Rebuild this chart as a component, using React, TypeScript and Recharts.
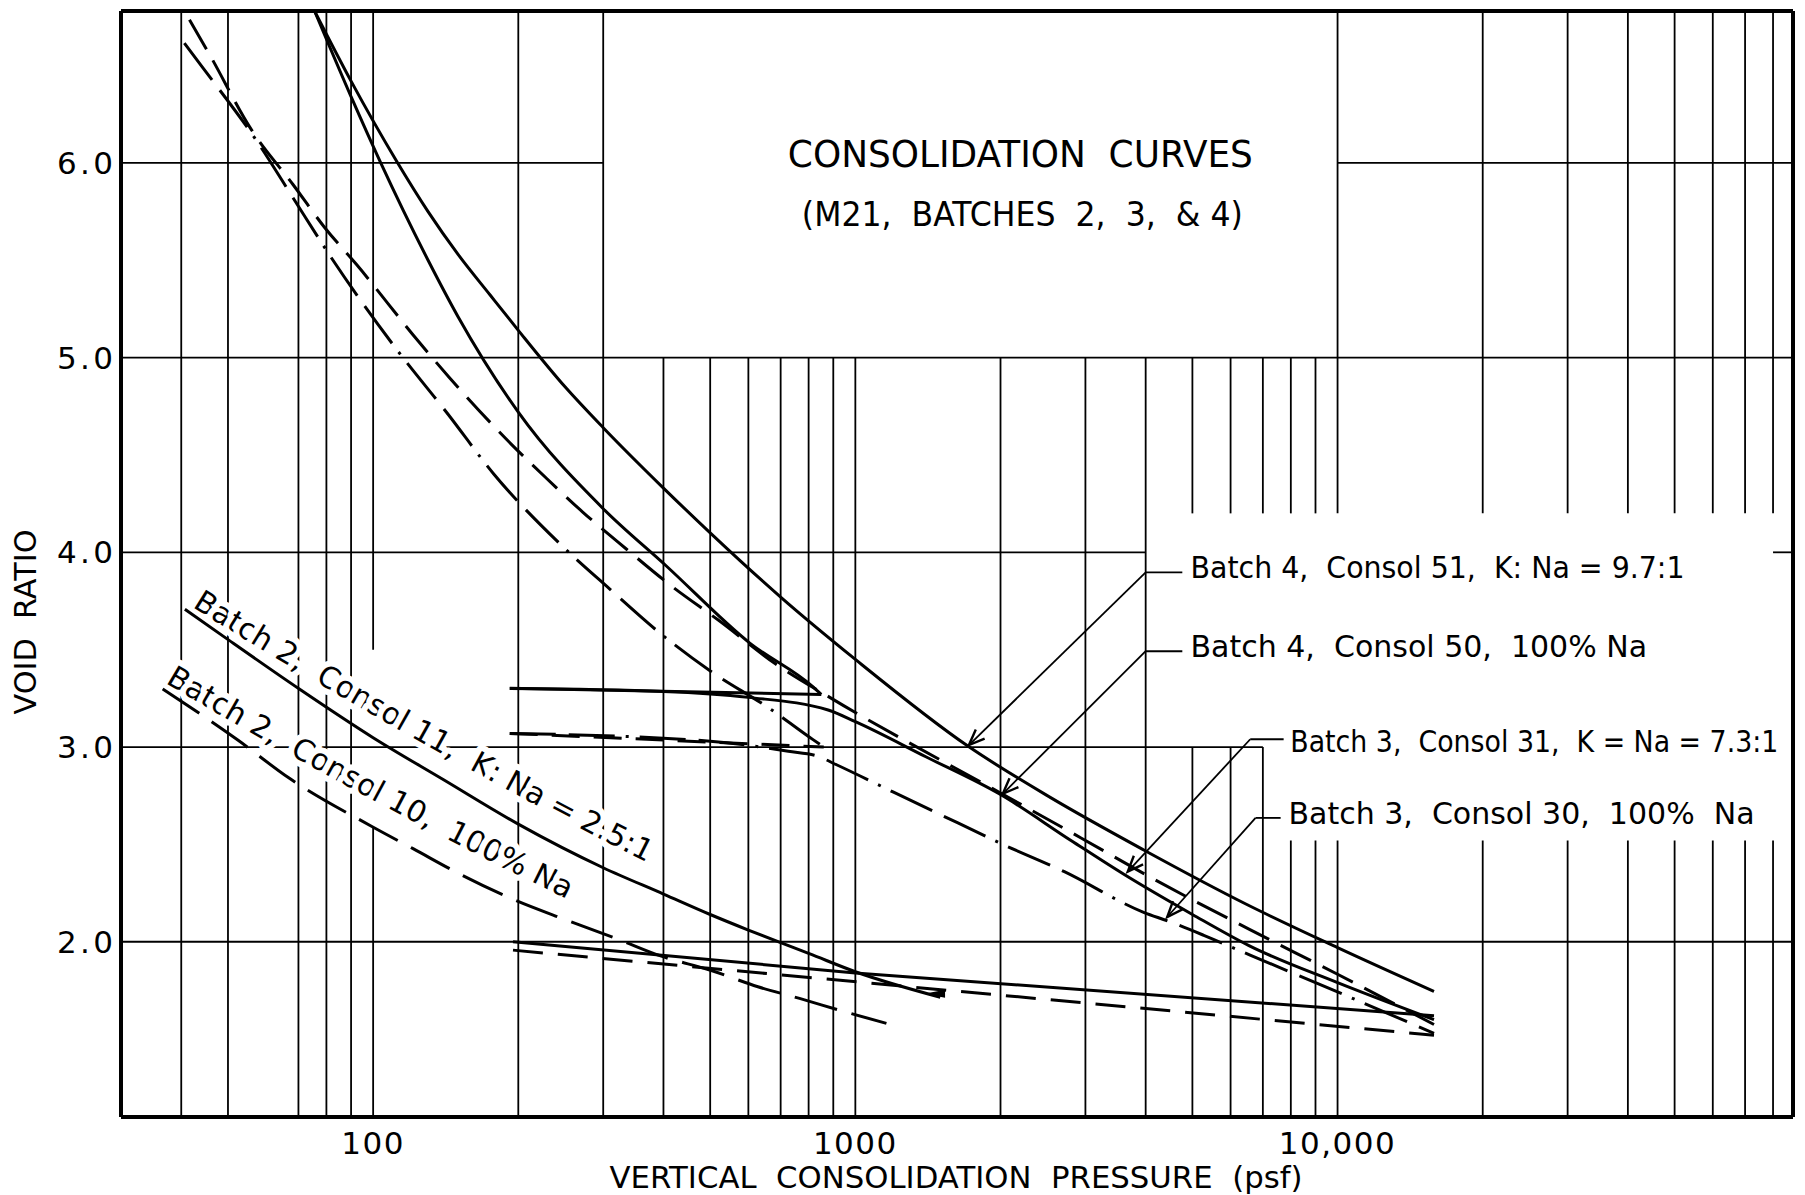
import React from 'react';
import { LineChart, Line, XAxis, YAxis, ReferenceLine, ReferenceDot } from 'recharts';

type Pt = { p: number; e: number };
const toPts = (rows: number[][]): Pt[] => rows.map(([p, e]) => ({ p, e }));

const FONT = '"DejaVu Sans", "Liberation Sans", sans-serif';
const INK = '#000';

// axis extents: pressure (psf, log) and void ratio
const pMin = 30;
const pMax = 88000;
const eMin = 1.1;
const eMax = 6.78;

const xTicks = [100, 1000, 10000];
const xTickLabels: Record<number, string> = { 100: '100', 1000: '1000', 10000: '10,000' };
const yTicks = [2, 3, 4, 5, 6];

// Batch 4, Consol 51, K:Na = 9.7:1 (solid)
const b4c51 = toPts([
  [75.6, 6.78], [90, 6.42], [111.8, 6.01], [130, 5.75], [150, 5.53], [175, 5.32], [200, 5.14],
  [250, 4.85], [300, 4.64], [400, 4.33], [500, 4.1], [700, 3.77], [1000, 3.45], [1711, 3.005],
  [2541, 2.74], [3972, 2.47], [6500, 2.19], [10000, 1.97], [15850, 1.745],
]);

// Batch 4, Consol 50, 100% Na (long dash)
const b4c50 = toPts([
  [41.6, 6.735], [45.8, 6.556], [55.9, 6.171], [68.2, 5.889], [79.4, 5.667], [92.3, 5.479],
  [124, 5.085], [144, 4.897], [194, 4.552], [229, 4.379], [272, 4.207], [335, 4.017],
  [415, 3.828], [523, 3.647], [685, 3.425], [892, 3.25], [2000, 2.764], [2938, 2.533],
  [4168, 2.32], [6550, 2.065], [10000, 1.833], [15850, 1.575],
]);

// Batch 3, Consol 31, K:Na = 7.3:1 (solid): virgin, rebound, reload
const b3c31Load = toPts([
  [75.6, 6.78], [90, 6.34], [103.7, 6.0], [130, 5.5], [150, 5.21], [200, 4.72],
  [300, 4.224], [405, 3.931], [604, 3.534], [816, 3.31], [850, 3.27],
]);
const b3c31Rebound = toPts([[192, 3.302], [850, 3.27]]);
const b3c31Reload = toPts([
  [192, 3.3], [400, 3.285], [600, 3.255], [878, 3.19], [1000, 3.13], [1400, 2.95],
  [2000, 2.756], [2800, 2.52], [3611, 2.345], [5000, 2.14], [6550, 1.98],
  [10000, 1.79], [15850, 1.6],
]);

// Batch 3, Consol 30, 100% Na (dash-dot): virgin, rebound, reload
const b3c30Load = toPts([
  [40.6, 6.615], [44.4, 6.487], [57.7, 6.103], [68.2, 5.821], [81.9, 5.513], [111.8, 5.043],
  [143, 4.709], [177.5, 4.405], [242, 4.052], [310, 3.81], [393, 3.586], [502, 3.388],
  [664, 3.198], [817, 3.038], [860, 3.0],
]);
const b3c30Rebound = toPts([[192, 3.07], [860, 3.0]]);
const b3c30Reload = toPts([
  [192, 3.07], [500, 3.03], [726, 2.978], [837, 2.952], [914, 2.909], [1200, 2.768],
  [1632, 2.61], [1990, 2.508], [2713, 2.36], [3972, 2.15], [4467, 2.105], [5280, 2.033],
  [6605, 1.93], [8300, 1.827], [15850, 1.53],
]);

// Batch 2, Consol 11, K:Na = 2.5:1 (solid)
const b2c11Load = toPts([
  [40.7, 3.708], [50.2, 3.549], [70.3, 3.298], [100, 3.048], [140, 2.832], [200, 2.604],
  [300, 2.38], [400, 2.245], [500, 2.14], [600, 2.06], [700, 1.995], [800, 1.94],
  [1000, 1.846], [1500, 1.715],
]);
const b2c11Reload = toPts([[195, 2.0], [1000, 1.84], [15850, 1.62]]);

// Batch 2, Consol 10, 100% Na (long dash)
const b2c10Load = toPts([
  [36.6, 3.298], [52.4, 3.036], [66.7, 2.843], [99.4, 2.592], [121, 2.478], [152.9, 2.342],
  [196, 2.216], [252, 2.111], [325, 2.009], [396, 1.926], [499, 1.855], [628, 1.769],
  [766, 1.709], [949, 1.641], [1160, 1.581],
]);
const b2c10Reload = toPts([[195, 1.957], [15850, 1.52]]);

const LONG_DASH = '34 13';
const DASH_DOT = '46 13 46 11 3 11';
const B2_DASH = '44 15';
const SHORT_DASH = '28 14';

const series = [
  { key: 'b4c51', data: b4c51, dash: undefined, curve: 'monotone' },
  { key: 'b4c50', data: b4c50, dash: LONG_DASH, curve: 'monotone' },
  { key: 'b3c31-load', data: b3c31Load, dash: undefined, curve: 'monotone' },
  { key: 'b3c31-rebound', data: b3c31Rebound, dash: undefined, curve: 'linear' },
  { key: 'b3c31-reload', data: b3c31Reload, dash: undefined, curve: 'monotone' },
  { key: 'b3c30-load', data: b3c30Load, dash: DASH_DOT, curve: 'monotone' },
  { key: 'b3c30-rebound', data: b3c30Rebound, dash: SHORT_DASH, curve: 'linear' },
  { key: 'b3c30-reload', data: b3c30Reload, dash: DASH_DOT, curve: 'monotone' },
  { key: 'b2c11-load', data: b2c11Load, dash: undefined, curve: 'monotone' },
  { key: 'b2c11-reload', data: b2c11Reload, dash: undefined, curve: 'linear' },
  { key: 'b2c10-load', data: b2c10Load, dash: B2_DASH, curve: 'monotone' },
  { key: 'b2c10-reload', data: b2c10Reload, dash: '30 15', curve: 'linear' },
] as const;

// log paper rulings, vertical: [psf, e from, e to]
const fullHeight = [40, 50, 70, 80, 90, 200, 300];
const belowTitle = [400, 500, 600, 700, 800, 900, 1000, 2000, 3000, 4000];
const besideNotes = [5000, 6000, 7000];
const underNotes = [8000, 9000];
const rightSide = [10000, 20000, 30000, 40000, 50000, 60000, 70000, 80000];

const verticalRules: number[][] = [
  ...fullHeight.map((p) => [p, eMin, eMax]),
  [100, eMin, 2.59], [100, 3.5, eMax],
  ...belowTitle.map((p) => [p, eMin, 5]),
  ...besideNotes.flatMap((p) => [[p, eMin, 3], [p, 4.2, 5]]),
  ...underNotes.flatMap((p) => [[p, eMin, 2.52], [p, 4.2, 5]]),
  ...rightSide.flatMap((p) => [[p, eMin, 2.52], [p, 4.2, eMax]]),
];

// horizontal rulings: [e, psf from, psf to]
const horizontalRules: number[][] = [
  [6, pMin, 300], [6, 10000, pMax],
  [5, pMin, pMax],
  [4, pMin, 4000], [4, 80000, pMax],
  [3, pMin, 7000],
  [2, pMin, pMax],
];

// callouts on the right: text start, leader elbow, leader end, arrow tip
const callouts = [
  { text: 'Batch 4,  Consol 51,  K: Na = 9.7:1', at: [4955, 3.867], len: 494, elbow: [4000, 3.897], end: 4765, tip: [1720, 3.01] },
  { text: 'Batch 4,  Consol 50,  100% Na', at: [4955, 3.462], len: undefined, elbow: [4000, 3.492], end: 4765, tip: [2022, 2.76] },
  { text: 'Batch 3,  Consol 31,  K = Na = 7.3:1', at: [7980, 2.975], len: 488, elbow: [6590, 3.04], end: 7730, tip: [3672, 2.36] },
  { text: 'Batch 3,  Consol 30,  100%  Na', at: [7910, 2.605], len: undefined, elbow: [6760, 2.636], end: 7620, tip: [4433, 2.127] },
];

// labels written along the Batch 2 curves
const curveNotes = [
  { id: 'b2c11-note', text: 'Batch 2,  Consol 11,  K: Na = 2.5:1', from: [42.1, 3.72], to: [411, 2.35], bow: 13 },
  { id: 'b2c10-note', text: 'Batch 2,  Consol 10,  100% Na', from: [37, 3.33], to: [289, 2.15], bow: 11 },
];

const renderXTick = (props: any) => {
  const { x, y, payload } = props;
  return (
    <text x={x} y={y + 37} textAnchor="middle" fontFamily={FONT} fontSize={31} fill={INK} letterSpacing={1.5}>
      {xTickLabels[payload.value] ?? String(payload.value)}
    </text>
  );
};

const renderYTick = (props: any) => {
  const { x, y, payload } = props;
  return (
    <text x={x} y={y + 11} textAnchor="end" fontFamily={FONT} fontSize={31} fill={INK} textLength={56} lengthAdjust="spacing">
      {Number(payload.value).toFixed(1)}
    </text>
  );
};

const xTitle = (props: any) => {
  const vb = props?.viewBox ?? { x: 121, y: 1117, width: 1672, height: 78 };
  return (
    <text x={vb.x + vb.width / 2 - 1} y={vb.y + 71} textAnchor="middle" fontFamily={FONT} fontSize={31} fill={INK}
      textLength={693} lengthAdjust="spacingAndGlyphs" style={{ whiteSpace: 'pre' }}>
      {'VERTICAL  CONSOLIDATION  PRESSURE  (psf)'}
    </text>
  );
};

const yTitle = (props: any) => {
  const vb = props?.viewBox ?? { x: 0, y: 11, width: 121, height: 1106 };
  return (
    <text transform={`translate(${vb.x + 36},${vb.y + 611}) rotate(-90)`} textAnchor="middle" fontFamily={FONT} fontSize={30}
      fill={INK} textLength={185} lengthAdjust="spacingAndGlyphs" style={{ whiteSpace: 'pre' }}>
      {'VOID  RATIO'}
    </text>
  );
};

const noteText = (text: string, size: number, len: number | undefined, anchor: 'start' | 'middle') => (props: any) => (
  <text x={props.cx} y={props.cy} fontFamily={FONT} fontSize={size} fill={INK} textAnchor={anchor}
    textLength={len} lengthAdjust={len ? 'spacingAndGlyphs' : undefined} style={{ whiteSpace: 'pre' }}>
    {text}
  </text>
);

// leader with an open arrowhead at (x2, y2)
const arrowLeader = (props: any) => {
  const { x1, y1, x2, y2 } = props;
  const a = Math.atan2(y2 - y1, x2 - x1);
  const L = 17;
  const s = 0.38;
  const bx1 = x2 - L * Math.cos(a - s);
  const by1 = y2 - L * Math.sin(a - s);
  const bx2 = x2 - L * Math.cos(a + s);
  const by2 = y2 - L * Math.sin(a + s);
  return (
    <g>
      <line x1={x1} y1={y1} x2={x2} y2={y2} stroke={INK} strokeWidth={1.8} />
      <path d={`M${bx1},${by1} L${x2},${y2} L${bx2},${by2}`} fill="none" stroke={INK} strokeWidth={2.4} />
    </g>
  );
};

// text along a gently bowed path between the segment ends; the white stroke knocks out the rulings
const curvedNote = (id: string, text: string, bow: number) => (props: any) => {
  const { x1, y1, x2, y2 } = props;
  const dx = x2 - x1;
  const dy = y2 - y1;
  const len = Math.hypot(dx, dy) || 1;
  const cx = (x1 + x2) / 2 - (dy / len) * bow;
  const cy = (y1 + y2) / 2 + (dx / len) * bow;
  const d = `M${x1},${y1} Q${cx},${cy} ${x2},${y2}`;
  return (
    <g>
      <path id={id} d={d} fill="none" stroke="none" />
      <text fontFamily={FONT} fontSize={30} fill={INK} stroke="#fff" strokeWidth={12} strokeLinejoin="round"
        paintOrder="stroke" style={{ whiteSpace: 'pre' }}>
        <textPath href={`#${id}`}>{text}</textPath>
      </text>
    </g>
  );
};

const wedge = (props: any) => {
  const { cx, cy } = props;
  return <path d={`M${cx - 12},${cy - 1} L${cx + 9},${cy - 5} L${cx + 9},${cy + 3} Z`} fill={INK} />;
};

export default function App() {
  return (
    <div style={{ position: 'absolute', left: 0, top: 0, width: 1805, height: 1195, background: '#fff' }}>
      <LineChart width={1805} height={1195} margin={{ top: 11, right: 12, bottom: 0, left: 0 }}>
        <XAxis
          type="number" dataKey="p" scale="log" domain={[pMin, pMax]} allowDataOverflow
          ticks={xTicks} interval={0} height={78} tickLine={false} tickSize={0} tickMargin={0}
          axisLine={{ stroke: INK, strokeWidth: 4 }} tick={renderXTick} label={xTitle}
        />
        <YAxis
          type="number" domain={[eMin, eMax]} allowDataOverflow ticks={yTicks} interval={0}
          width={121} tickLine={false} tickSize={0} tickMargin={8}
          axisLine={{ stroke: INK, strokeWidth: 4 }} tick={renderYTick} label={yTitle}
        />

        {verticalRules.map(([p, e1, e2], i) => (
          <ReferenceLine key={`v${i}`} segment={[{ x: p, y: e1 }, { x: p, y: e2 }]} stroke={INK} strokeWidth={1.8} ifOverflow="visible" zIndex={100} />
        ))}
        {horizontalRules.map(([e, p1, p2], i) => (
          <ReferenceLine key={`h${i}`} segment={[{ x: p1, y: e }, { x: p2, y: e }]} stroke={INK} strokeWidth={1.8} ifOverflow="visible" zIndex={100} />
        ))}

        {curveNotes.map((n) => (
          <ReferenceLine key={n.id} segment={[{ x: n.from[0], y: n.from[1] }, { x: n.to[0], y: n.to[1] }]}
            ifOverflow="visible" zIndex={200} shape={curvedNote(n.id, n.text, n.bow)} />
        ))}

        <ReferenceDot x={2199} y={5.979} r={1} ifOverflow="visible" zIndex={200}
          shape={noteText('CONSOLIDATION  CURVES', 38, 465, 'middle')} />
        <ReferenceDot x={2220} y={5.677} r={1} ifOverflow="visible" zIndex={200}
          shape={noteText('(M21,  BATCHES  2,  3,  & 4)', 34, 441, 'middle')} />

        {callouts.map((c, i) => (
          <ReferenceDot key={`ct${i}`} x={c.at[0]} y={c.at[1]} r={1} ifOverflow="visible" zIndex={200}
            shape={noteText(c.text, 30, c.len, 'start')} />
        ))}

        {series.map((s) => (
          <Line key={s.key} name={s.key} data={s.data as Pt[]} dataKey="e" type={s.curve} stroke={INK} strokeWidth={3}
            strokeDasharray={s.dash} dot={false} activeDot={false} isAnimationActive={false} legendType="none" zIndex={400} />
        ))}

        {callouts.map((c, i) => (
          <ReferenceLine key={`lh${i}`} segment={[{ x: c.elbow[0], y: c.elbow[1] }, { x: c.end, y: c.elbow[1] }]}
            stroke={INK} strokeWidth={1.8} ifOverflow="visible" zIndex={450} />
        ))}
        {callouts.map((c, i) => (
          <ReferenceLine key={`ld${i}`} segment={[{ x: c.elbow[0], y: c.elbow[1] }, { x: c.tip[0], y: c.tip[1] }]}
            ifOverflow="visible" zIndex={450} shape={arrowLeader} />
        ))}
        <ReferenceDot x={1470} y={1.728} r={1} ifOverflow="visible" zIndex={450} shape={wedge} />

        <ReferenceLine y={eMax} stroke={INK} strokeWidth={4} ifOverflow="visible" zIndex={600} />
        <ReferenceLine x={pMax} stroke={INK} strokeWidth={4} ifOverflow="visible" zIndex={600} />
      </LineChart>
    </div>
  );
}
